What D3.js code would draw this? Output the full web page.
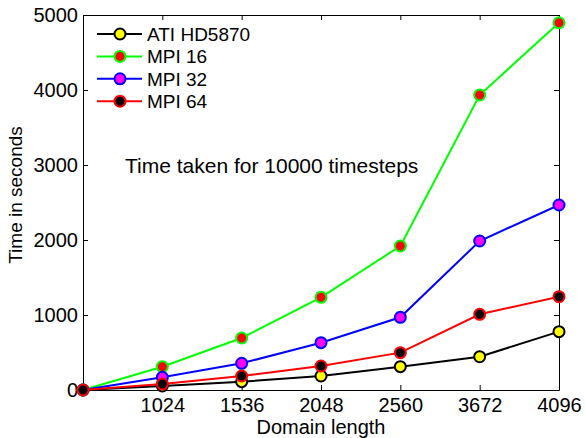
<!DOCTYPE html>
<html>
<head>
<meta charset="utf-8">
<script src="https://cdn.jsdelivr.net/npm/d3@7"></script>
<style>
  body { margin: 0; background: #fff; }
  svg { font-family: "Liberation Sans", Arial, sans-serif; }
  .domain { stroke: #000; }
</style>
</head>
<body>
<svg id="chart" width="585" height="438"></svg>
<script>
'use strict';

// categories along x (first point sits on the y axis, unlabeled)
const domainLengths = ['', '1024', '1536', '2048', '2560', '3672', '4096'];

const atiHD5870 = [0, 53, 111, 187, 311, 444, 778];
const mpi16 = [0, 311, 693, 1236, 1920, 3933, 4897];
const mpi32 = [0, 169, 356, 631, 969, 1987, 2467];
const mpi64 = [0, 80, 187, 320, 498, 1009, 1244];

const yTicks = [0, 1000, 2000, 3000, 4000, 5000];

const series = [
    { name: 'ATI HD5870', values: atiHD5870, line: '#000000', fill: '#ffff00' },
    { name: 'MPI 16', values: mpi16, line: '#00ff00', fill: '#ff0000' },
    { name: 'MPI 32', values: mpi32, line: '#0000ff', fill: '#ff00ff' },
    { name: 'MPI 64', values: mpi64, line: '#ff0000', fill: '#000000' },
];

const plotLeft = 83, plotRight = 559, plotTop = 15, plotBottom = 390;
const svg = d3.select('#chart');

const x = d3.scalePoint()
    .domain(d3.range(domainLengths.length))
    .range([plotLeft, plotRight]);
const y = d3.scaleLinear()
    .domain([0, 5000])
    .range([plotBottom, plotTop]);

// box with inward ticks on all four sides
svg.append('g')
    .attr('transform', 'translate(0,' + plotBottom + ')')
    .call(d3.axisBottom(x).tickSizeInner(-5).tickSizeOuter(0).tickPadding(8)
        .tickFormat(function(i) { return domainLengths[i]; }));
svg.append('g')
    .attr('transform', 'translate(0,' + plotTop + ')')
    .call(d3.axisTop(x).tickSizeInner(-5).tickSizeOuter(0).tickFormat(''));
svg.append('g')
    .attr('transform', 'translate(' + plotLeft + ',0)')
    .call(d3.axisLeft(y).tickValues(yTicks).tickFormat(d3.format('d'))
        .tickSizeInner(-5).tickSizeOuter(0).tickPadding(5));
svg.append('g')
    .attr('transform', 'translate(' + plotRight + ',0)')
    .call(d3.axisRight(y).tickValues(yTicks).tickSizeInner(-5).tickSizeOuter(0).tickFormat(''));

svg.selectAll('.tick text')
    .attr('font-size', 20)
    .attr('font-family', '"Liberation Sans", Arial, sans-serif')
    .attr('fill', '#000');
svg.selectAll('.tick line').attr('stroke', '#000');

const line = d3.line()
    .x(function(d, i) { return x(i); })
    .y(function(d) { return y(d); });

const plot = svg.append('g');
series.forEach(function(s) {
    const g = plot.append('g');
    g.append('path')
        .datum(s.values)
        .attr('d', line)
        .attr('fill', 'none')
        .attr('stroke', s.line)
        .attr('stroke-width', 2);
    g.selectAll('circle')
        .data(s.values)
        .enter().append('circle')
        .attr('cx', function(d, i) { return x(i); })
        .attr('cy', function(d) { return y(d); })
        .attr('r', 5.5)
        .attr('fill', s.fill)
        .attr('stroke', s.line)
        .attr('stroke-width', 2);
});

// legend
const legend = svg.append('g');
series.forEach(function(s, i) {
    const cy = 34 + i * 22.4;
    legend.append('line')
        .attr('x1', 97).attr('x2', 142)
        .attr('y1', cy).attr('y2', cy)
        .attr('stroke', s.line)
        .attr('stroke-width', 2);
    legend.append('circle')
        .attr('cx', 120).attr('cy', cy).attr('r', 5.5)
        .attr('fill', s.fill)
        .attr('stroke', s.line)
        .attr('stroke-width', 2);
    legend.append('text')
        .attr('x', 147).attr('y', cy + 7)
        .attr('font-size', 19)
        .text(s.name);
});

svg.append('text')
    .attr('x', 125).attr('y', 173)
    .attr('font-size', 21)
    .text('Time taken for 10000 timesteps');

svg.append('text')
    .attr('x', (plotLeft + plotRight) / 2).attr('y', 434)
    .attr('text-anchor', 'middle')
    .attr('font-size', 20)
    .text('Domain length');

svg.append('text')
    .attr('transform', 'translate(22,195) rotate(-90)')
    .attr('text-anchor', 'middle')
    .attr('font-size', 19)
    .text('Time in seconds');
</script>
</body>
</html>
